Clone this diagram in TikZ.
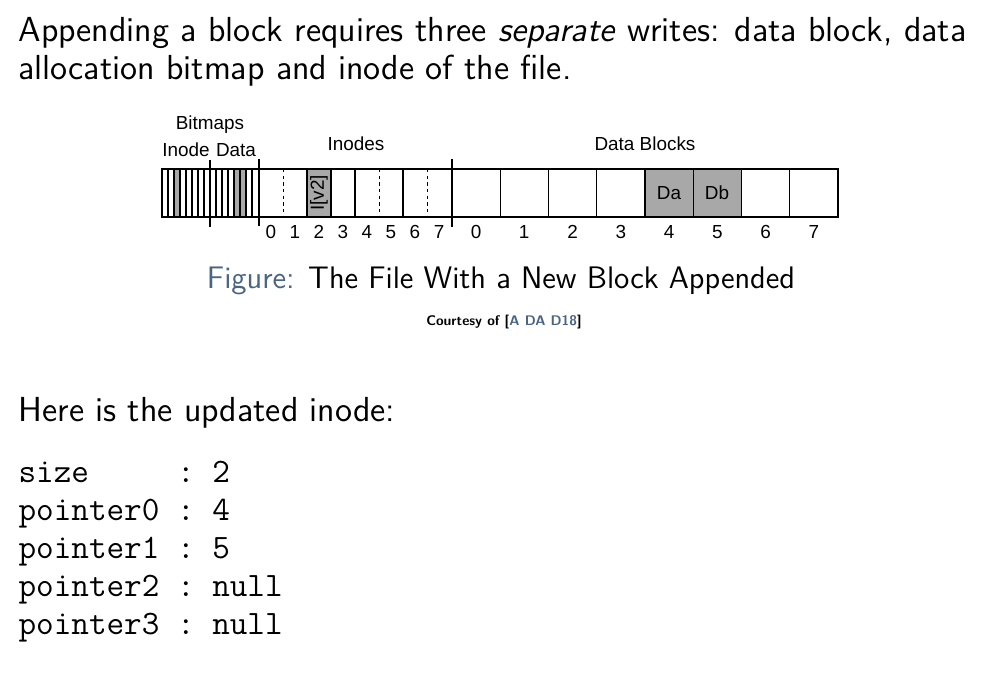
\documentclass[tikz,border=0pt]{standalone}
\usepackage{fontspec}
\newfontfamily\diag{Liberation Sans}
\definecolor{struct}{RGB}{74,100,132}
\definecolor{cellgray}{RGB}{168,168,168}
\tikzset{
  thin line/.style={draw=black, line width=0.4pt},
  thick divider/.style={draw=black, line width=0.8pt},
  dashed divider/.style={draw=black, line width=0.35pt, dash pattern=on 1.2pt off 1.2pt},
  lbl/.style={font=\diag\fontsize{6.8pt}{8pt}\selectfont, inner sep=0pt},
  num/.style={lbl, anchor=base},
  body/.style={font=\sffamily\fontsize{12.5pt}{15pt}\selectfont, anchor=base west, inner sep=0pt},
  mono/.style={font=\ttfamily\fontsize{12.3pt}{15pt}\selectfont, anchor=base west, inner sep=0pt},
}
\begin{document}
\begin{tikzpicture}[x=0.3597pt, y=-0.3597pt]
\useasboundingbox (0,0) rectangle (1007,673);
% body text
\node[body] (t1) at (18,42) {Appending a block requires three \textit{separate} writes: data block, data};
\node[body] (t2) at (18,80) {allocation bitmap and inode of the file.};
% labels
\node[num] (bm) at (210,130) {Bitmaps};
\node[num] (bmi) at (186,157) {Inode};
\node[num] (bmd) at (236,157) {Data};
\node[num] (inl) at (356,151) {Inodes};
\node[num] (dbl) at (645,151) {Data Blocks};
% bitmaps
\fill[cellgray] (174,169) rectangle (180,217);
\fill[cellgray] (234,169) rectangle (246,217);
\foreach \i in {1,...,15} {\draw[thin line] ({162+6*\i},169) -- ({162+6*\i},217);}
\draw[thin line] (162,169) rectangle (259,217);
% inodes
\fill[cellgray] (307,169) rectangle (331,217);
\node[lbl, rotate=90] (iv2) at (319,193) {I[v2]};
\foreach \x in {283,379,427} {\draw[dashed divider] (\x,169) -- (\x,217);}
\foreach \x in {307,331,355,403} {\draw[thin line] (\x,169) -- (\x,217);}
% data blocks
\fill[cellgray] (645,169) rectangle (741.5,217);
\foreach \i in {1,...,7} {\draw[thin line] ({452+48.25*\i},169) -- ({452+48.25*\i},217);}
\draw[thin line] (259,169) rectangle (838,217);
\node[num] (da) at (669,199) {Da};
\node[num] (db) at (717,199) {Db};
% thick dividers
\draw[thick divider] (210,160) -- (210,227);
\draw[thick divider] (259,159) -- (259,226);
\draw[thick divider] (452,159) -- (452,227);
% numbers
\foreach \i in {0,...,7} {
  \node[num] (in\i) at ({271+24*\i},239) {\i};
  \node[num] (dn\i) at ({476+48.25*\i},239) {\i};
}
% caption
\node[font=\sffamily\fontsize{11.2pt}{13pt}\selectfont, inner sep=0pt, anchor=base] (cap) at (501,288) {\textcolor{struct}{Figure:} The File With a New Block Appended};
\node[font=\sffamily\bfseries\fontsize{5pt}{6pt}\selectfont, inner sep=0pt, anchor=base] (court) at (504,325) {Courtesy of [\textcolor{struct}{A DA D18}]};
% inode listing
\node[body] (t3) at (18,421) {Here is the updated inode:};
\node[mono] (m1) at (18,482) {size\ \ \ \ \ :\ 2};
\node[mono] (m2) at (18,520) {pointer0\ :\ 4};
\node[mono] (m3) at (18,558) {pointer1\ :\ 5};
\node[mono] (m4) at (18,596) {pointer2\ :\ null};
\node[mono] (m5) at (18,634) {pointer3\ :\ null};
\end{tikzpicture}
\end{document}
